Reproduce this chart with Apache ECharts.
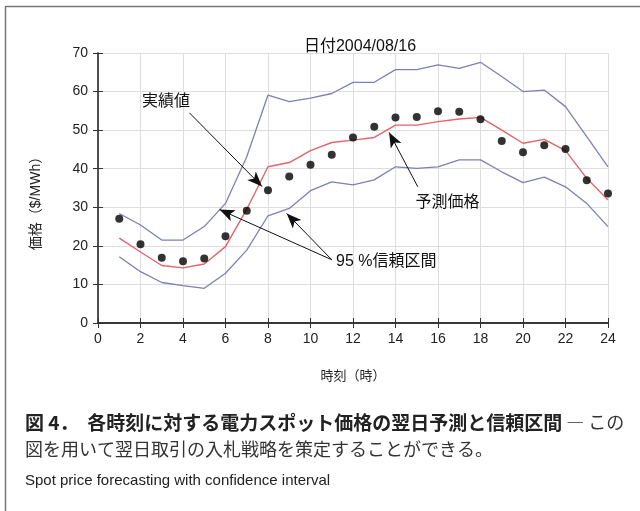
<!DOCTYPE html>
<html>
<head>
<meta charset="utf-8">
<script src="https://cdn.jsdelivr.net/npm/echarts@6/dist/echarts.min.js"></script>
<style>
  html, body { margin: 0; padding: 0; background: #fff; }
  #chart { width: 640px; height: 511px; }
</style>
</head>
<body>
<div id="chart"></div>
<script>
// Hourly spot price forecast for 2004/08/16 ($/MWh)
const hours = [1,2,3,4,5,6,7,8,9,10,11,12,13,14,15,16,17,18,19,20,21,22,23,24];
const actual = [27.0,20.4,16.9,16.0,16.7,22.5,29.1,34.4,38.0,41.0,43.6,48.1,50.9,53.3,53.4,54.9,54.8,52.8,47.2,44.3,46.1,45.1,37.0,33.6];
const forecast = [22.0,18.4,14.9,14.3,15.3,19.8,29.5,40.5,41.6,44.7,46.8,47.4,48.1,51.3,51.3,52.2,52.9,53.3,50.0,46.6,47.6,44.7,37.5,31.9];
const upper = [28.4,25.4,21.5,21.5,25.0,31.0,43.1,59.1,57.4,58.3,59.5,62.4,62.4,65.7,65.7,66.9,66.0,67.6,63.9,60.0,60.4,56.1,48.3,40.5];
const lower = [17.2,13.3,10.5,9.7,9.0,12.9,18.9,27.8,29.7,34.3,36.6,35.8,37.1,40.5,40.1,40.5,42.3,42.3,39.2,36.4,37.8,35.3,31.0,25.0];
const xTicks = [0,2,4,6,8,10,12,14,16,18,20,22,24];
const yTicks = [0,10,20,30,40,50,60,70];

const chartTitle = '日付2004/08/16';
const xName = '時刻（時）';
const yName = '価格（$/MWh）';
const captionBold = '図 4．  各時刻に対する電力スポット価格の翌日予測と信頼区間';
const captionDash = ' ― この';
const captionLine2 = '図を用いて翌日取引の入札戦略を策定することができる。';
const captionEn = 'Spot price forecasting with confidence interval';

// Callout labels and the arrows pointing from them, in data units
const callouts = [
  { text: '実績値', at: [3.2, 57.3], align: 'center' },
  { text: '予測価格', at: [16.45, 31.2], align: 'center' },
  { text: '95 %信頼区間', at: [11.2, 15.8], align: 'left' }
];
const arrows = [
  [[4.3, 54.5], [7.72, 35.4]],
  [[15.05, 35.3], [13.7, 49.4]],
  [[11.0, 16.4], [5.72, 29.4]],
  [[11.0, 16.4], [8.88, 28.4]]
];

const pair = ys => hours.map((h, i) => [h, ys[i]]);
const fontLatin = 'Liberation Sans, Arial, Helvetica, sans-serif';
const fontJp = 'Liberation Sans, Noto Sans CJK JP, sans-serif';
const fontCjk = 'Noto Sans CJK JP, sans-serif';

const chart = echarts.init(document.getElementById('chart'), null, { renderer: 'canvas' });

const baseX = {
  type: 'value', min: 0, max: 24, interval: 2,
  axisLine: { show: true, lineStyle: { color: '#111', width: 1.5 } },
  axisTick: { show: true, inside: true, length: 5, lineStyle: { color: '#333' } },
  splitLine: { show: false }
};
const baseY = {
  type: 'value', min: 0, max: 70, interval: 10,
  axisLine: { show: true, lineStyle: { color: '#111', width: 1.5 } },
  axisTick: { show: true, inside: true, length: 5, lineStyle: { color: '#333' } },
  splitLine: { show: false }
};

chart.setOption({
  animation: false,
  backgroundColor: '#fff',
  title: {
    text: chartTitle,
    left: 355, textAlign: 'center', top: 34,
    textStyle: { fontFamily: fontJp, fontSize: 16, fontWeight: 'normal', color: '#111' }
  },
  grid: { left: 98, right: 32, top: 53, bottom: 188, containLabel: false },
  xAxis: [
    Object.assign({}, baseX, {
      position: 'bottom',
      axisLabel: { show: true, fontSize: 14, color: '#222', fontFamily: fontLatin, margin: 9,
        formatter: v => xTicks.includes(v) ? String(v) : '' },
      splitLine: { show: true, lineStyle: { color: '#dedede', width: 1 } },
      name: xName, nameLocation: 'middle', nameGap: 47,
      nameTextStyle: { fontFamily: fontJp, fontSize: 13, color: '#222' }
    }),
    Object.assign({}, baseX, {
      position: 'top',
      axisLine: { show: true, lineStyle: { color: '#333', width: 1.5 } },
      axisLabel: { show: false }
    })
  ],
  yAxis: [
    Object.assign({}, baseY, {
      position: 'left',
      axisLabel: { show: true, fontSize: 14, color: '#222', fontFamily: fontLatin, margin: 10,
        formatter: v => yTicks.includes(v) ? String(v) : '' },
      splitLine: { show: true, lineStyle: { color: '#dedede', width: 1 } }
    }),
    Object.assign({}, baseY, {
      position: 'right',
      axisLine: { show: true, lineStyle: { color: '#555', width: 1.5 } },
      axisLabel: { show: false }
    })
  ],
  graphic: [
    // outer frame around the figure panel
    { type: 'rect', left: 3, top: 4, shape: { width: 720, height: 620 },
      style: { fill: 'none', stroke: '#777', lineWidth: 1.5 }, silent: true, z: -1 },
    { type: 'text', x: 36, y: 200, rotation: Math.PI / 2,
      style: { text: yName, fontFamily: fontJp, fontSize: 14, fill: '#222',
        textAlign: 'center', textVerticalAlign: 'middle' } },
    { type: 'text', left: 25, top: 413,
      style: {
        text: '{b|' + captionBold + '}{n|' + captionDash + '}',
        rich: {
          b: { fontFamily: fontCjk, fontWeight: 'bold', fontSize: 19, fill: '#222', color: '#222' },
          n: { fontFamily: fontCjk, fontSize: 18, fill: '#333', color: '#333' }
        }
      } },
    { type: 'text', left: 25, top: 440,
      style: { text: captionLine2, fontFamily: fontCjk, fontSize: 18, fill: '#333' } },
    { type: 'text', left: 25, top: 473,
      style: { text: captionEn, fontFamily: fontLatin, fontSize: 15, fill: '#222' } }
  ],
  series: [
    {
      name: '95 %信頼区間 上限', type: 'line', data: pair(upper), showSymbol: false,
      lineStyle: { color: '#7c80b6', width: 1.3 }, z: 2
    },
    {
      name: '95 %信頼区間 下限', type: 'line', data: pair(lower), showSymbol: false,
      lineStyle: { color: '#7c80b6', width: 1.3 }, z: 2
    },
    {
      name: '予測価格', type: 'line', data: pair(forecast), showSymbol: false,
      lineStyle: { color: '#e3646a', width: 1.4 }, z: 3
    },
    {
      name: '実績値', type: 'scatter', data: pair(actual), symbol: 'circle', symbolSize: 8,
      itemStyle: { color: '#000' }, z: 4,
      markLine: {
        silent: true, symbol: ['none', 'arrow'], symbolSize: [9, 15],
        label: { show: false },
        lineStyle: { color: '#111', width: 1, type: 'solid' },
        data: arrows.map(a => [{ coord: a[0] }, { coord: a[1] }])
      },
      markPoint: {
        silent: true, symbol: 'circle', symbolSize: 0,
        label: { show: true, position: 'inside', color: '#111', fontSize: 16,
          fontFamily: fontJp, formatter: p => p.name },
        data: callouts.map(c => ({
          name: c.text, coord: c.at,
          label: { align: c.align }
        }))
      }
    }
  ]
});
</script>
</body>
</html>
